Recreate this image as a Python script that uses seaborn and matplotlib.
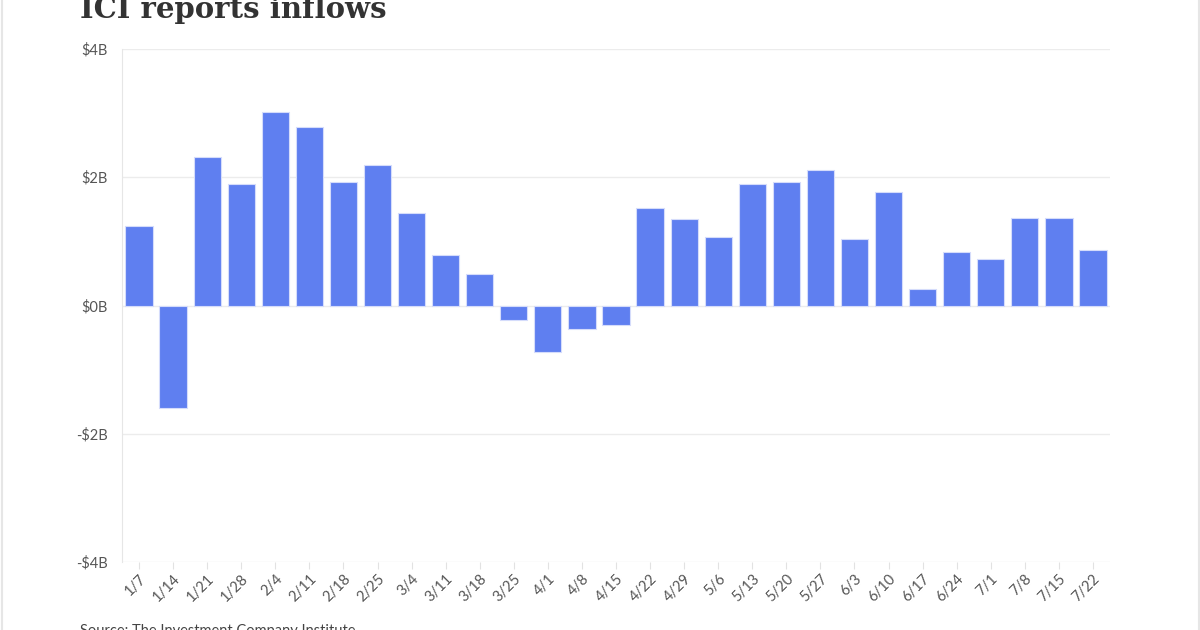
import matplotlib
matplotlib.use("Agg")
import matplotlib.pyplot as plt
import seaborn as sns
import pandas as pd

# Weekly flows, billions of dollars
weeks = ["1/7", "1/14", "1/21", "1/28", "2/4", "2/11", "2/18", "2/25",
         "3/4", "3/11", "3/18", "3/25", "4/1", "4/8", "4/15", "4/22",
         "4/29", "5/6", "5/13", "5/20", "5/27", "6/3", "6/10", "6/17",
         "6/24", "7/1", "7/8", "7/15", "7/22"]
flows = [1.24, -1.60, 2.32, 1.90, 3.02, 2.78, 1.93, 2.19,
         1.44, 0.78, 0.49, -0.23, -0.73, -0.36, -0.30, 1.52,
         1.35, 1.07, 1.89, 1.93, 2.11, 1.03, 1.77, 0.26,
         0.84, 0.72, 1.36, 1.36, 0.87]
yticks = [-4, -2, 0, 2, 4]
ytick_labels = ["-$4B", "-$2B", "$0B", "$2B", "$4B"]

df = pd.DataFrame({"week": weeks, "flow": flows})

sns.set_style("white")
plt.rcParams["font.family"] = ["Lato", "DejaVu Sans"]

fig = plt.figure(figsize=(12, 6.3), dpi=100)
ax = fig.add_axes([122 / 1200, 1 - 562 / 630, 988 / 1200, 513 / 630])

sns.barplot(data=df, x="week", y="flow", color="#5f7ff0", saturation=1,
            width=0.8, edgecolor="#d5dcfb", linewidth=0.8, ax=ax)

ax.set_ylim(-4, 4)
ax.set_xlim(-0.5, len(weeks) - 0.5)
ax.set_yticks(yticks)
ax.set_yticklabels(ytick_labels)
ax.set_xlabel("")
ax.set_ylabel("")

ax.grid(axis="y", color="#ececec", linewidth=1)
ax.set_axisbelow(True)
for side in ["top", "right", "bottom"]:
    ax.spines[side].set_visible(False)
ax.spines["left"].set_color("#e6e6e6")

ax.tick_params(axis="y", length=6, color="#ececec", labelsize=10.5,
               labelcolor="#555555", pad=4)
ax.tick_params(axis="x", length=5, color="#e2e2e2", labelsize=10.5,
               labelcolor="#555555", pad=2, bottom=True)
plt.setp(ax.get_xticklabels(), rotation=45, ha="right", rotation_mode="anchor")

fig.text(80 / 1200, 1 - 18 / 630, "ICI reports inflows", family="DejaVu Serif",
         fontweight="bold", fontsize=21, color="#333333", va="baseline")
fig.text(80 / 1200, 1 - 624 / 630, "Source: The Investment Company Institute",
         fontsize=10.5, color="#444444", va="top")

# card border
fig.add_artist(plt.Line2D([0.0015, 0.0015], [0, 1], color="#e6e6e6", lw=1.5))
fig.add_artist(plt.Line2D([0.999, 0.999], [0, 1], color="#e6e6e6", lw=1.5))

fig.savefig("out.png", dpi=100)
plt.close(fig)
